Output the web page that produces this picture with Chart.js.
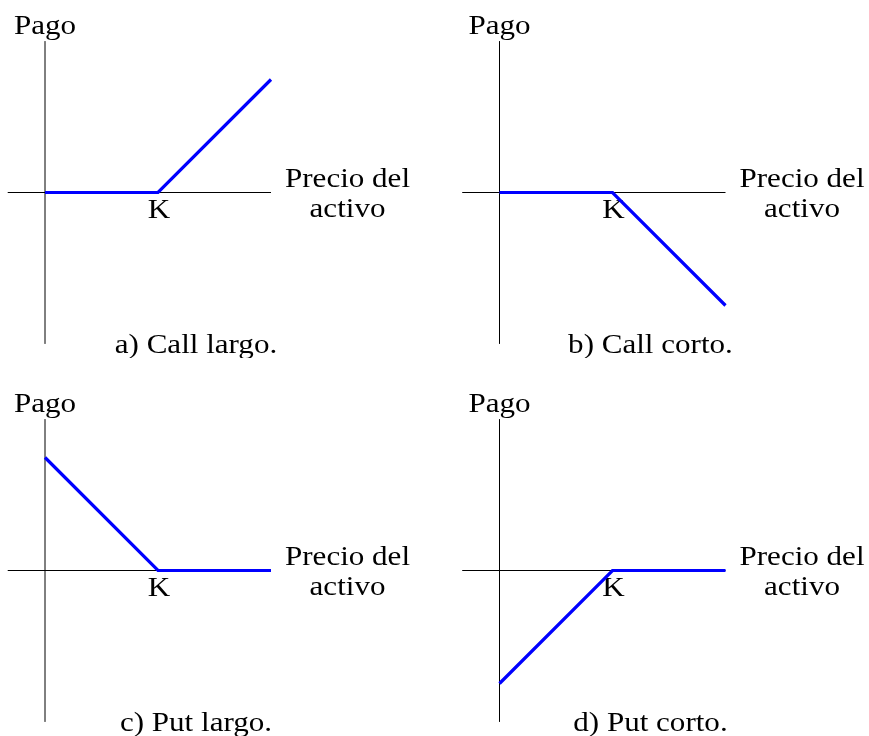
<!DOCTYPE html>
<html>
<head>
<meta charset="utf-8">
<script src="https://cdn.jsdelivr.net/npm/chart.js@4/dist/chart.umd.min.js"></script>
<style>
  html, body { margin: 0; padding: 0; background: #fff; overflow: hidden; }
  #wrap { position: relative; width: 869px; height: 736px; }
  #wrap canvas { position: absolute; }
</style>
</head>
<body>
<div id="wrap">
  <canvas id="callLargo" width="415" height="358" style="left:0px;top:0px"></canvas>
  <canvas id="callCorto" width="415" height="358" style="left:454px;top:0px"></canvas>
  <canvas id="putLargo" width="415" height="358" style="left:0px;top:378px"></canvas>
  <canvas id="putCorto" width="415" height="358" style="left:454px;top:378px"></canvas>
</div>
<script>
// Payoff diagrams at expiry for the four basic option positions.
// Asset price in units of the strike K, payoff in the same units.
const assetPrice      = [0, 1, 2];     // 0, K, 2K
const payoffCallLargo = [0, 0, 1];
const payoffCallCorto = [0, 0, -1];
const payoffPutLargo  = [1, 0, 0];
const payoffPutCorto  = [-1, 0, 0];

const strike      = 1;
const strikeLabel = 'K';
const xAxisSpan   = [-0.33, 2];        // horizontal axis extent
const yAxisSpan   = [-1.34, 1.34];     // vertical axis extent
const yAxisTitle  = 'Pago';
const xAxisTitle  = ['Precio del', 'activo'];
const captions    = ['a) Call largo.', 'b) Call corto.', 'c) Put largo.', 'd) Put corto.'];

// Layout of each panel: pixels per unit and where the origin sits in the canvas.
const UNIT = 113;
const ORIGIN_Y = 192.5;
const FONT = '27px "Liberation Serif", "Times New Roman", serif';
const STRETCH = 1.15;

const toPoints = (xs, ys) => xs.map((v, i) => ({ x: v, y: ys[i] }));

const labelsPlugin = {
  id: 'payoffLabels',
  beforeDatasetsDraw(chart, args, opts) {
    const { ctx, scales: { x, y } } = chart;
    ctx.save();
    ctx.fillStyle = '#000';
    ctx.font = FONT;
    ctx.textAlign = 'center';
    ctx.textBaseline = 'alphabetic';
    for (const t of opts.items) {
      ctx.save();
      ctx.translate(x.getPixelForValue(t.x), y.getPixelForValue(t.y));
      ctx.scale(STRETCH, 1);
      ctx.fillText(t.text, 0, 0);
      ctx.restore();
    }
    ctx.restore();
  }
};

function payoffPanel(id, payoff, caption, originX) {
  const canvas = document.getElementById(id);
  const w = canvas.width, h = canvas.height;
  const items = [
    { text: yAxisTitle, x: 0, y: 1.407 },
    { text: xAxisTitle[0], x: 2.677, y: 0.053 },
    { text: xAxisTitle[1], x: 2.677, y: -0.221 },
    { text: strikeLabel, x: strike + 0.009, y: -0.23 },
    { text: caption, x: 1.336, y: -1.416 }
  ];
  return new Chart(canvas, {
    type: 'line',
    data: {
      datasets: [
        {
          data: toPoints(assetPrice, payoff),
          borderColor: '#0000ff',
          borderWidth: 3.2,
          borderJoinStyle: 'miter',
          borderCapStyle: 'butt'
        },
        {
          data: toPoints(xAxisSpan, [0, 0]),
          borderColor: '#000',
          borderWidth: 1
        },
        {
          data: toPoints([0, 0], yAxisSpan),
          borderColor: '#000',
          borderWidth: 1
        }
      ]
    },
    options: {
      responsive: false,
      animation: false,
      events: [],
      layout: { padding: 0 },
      elements: { point: { radius: 0 }, line: { tension: 0, fill: false } },
      datasets: { line: { clip: false } },
      scales: {
        x: { type: 'linear', display: false,
             min: -originX / UNIT, max: (w - originX) / UNIT },
        y: { type: 'linear', display: false,
             min: -(h - ORIGIN_Y) / UNIT, max: ORIGIN_Y / UNIT }
      },
      plugins: {
        legend: { display: false },
        tooltip: { enabled: false },
        payoffLabels: { items }
      }
    },
    plugins: [labelsPlugin]
  });
}

payoffPanel('callLargo', payoffCallLargo, captions[0], 45);
payoffPanel('callCorto', payoffCallCorto, captions[1], 45.5);
payoffPanel('putLargo',  payoffPutLargo,  captions[2], 45);
payoffPanel('putCorto',  payoffPutCorto,  captions[3], 45.5);
</script>
</body>
</html>
